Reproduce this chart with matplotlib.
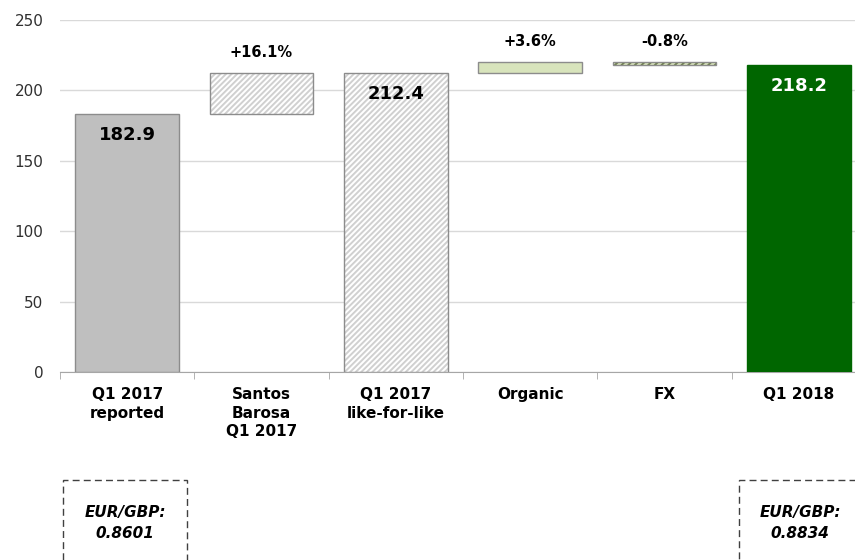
import matplotlib.pyplot as plt
from matplotlib.patches import Rectangle

plt.rcParams['font.family'] = ['DejaVu Sans']
plt.rcParams['hatch.linewidth'] = 1.4

# --- data ---
categories = ['Q1 2017\nreported', 'Santos\nBarosa\nQ1 2017', 'Q1 2017\nlike-for-like',
              'Organic', 'FX', 'Q1 2018']
steps = [182.9, 29.5, 212.4, 7.6, -1.8, 218.2]
kinds = ['total', 'delta', 'total', 'delta', 'delta', 'total']
value_labels = ['182.9', '', '212.4', '', '', '218.2']
pct_labels = ['', '+16.1%', '', '+3.6%', '-0.8%', '']
fx_boxes = [('EUR/GBP:\n0.8601', 0), ('EUR/GBP:\n0.8834', 5)]

# --- styles ---
GRID = '#D9D9D9'
EDGE = '#8C8C8C'
TEXT = '#000000'
styles = [
    dict(face='#BFBFBF', hatch=None, hcol=None),
    dict(face='white', hatch='/' * 6, hcol='#D0D0D0'),
    dict(face='white', hatch='/' * 6, hcol='#D0D0D0'),
    dict(face='#D8E4BC', hatch=None, hcol=None),
    dict(face='#D8E4BC', hatch='/' * 5, hcol='#6F7F4F'),
    dict(face='#006600', hatch=None, hcol=None),
]

fig = plt.figure(figsize=(8.55, 5.6), dpi=100)
ax = fig.add_axes([60 / 855, 1 - 372 / 560, 806 / 855, 352 / 560])

x = list(range(len(categories)))
bottoms, heights = [], []
running = 0.0
for s, k in zip(steps, kinds):
    if k == 'total':
        bottoms.append(0.0)
        heights.append(s)
        running = s
    else:
        lo = min(running, running + s)
        bottoms.append(lo)
        heights.append(abs(s))
        running += s

width = 0.77
for i in x:
    st = styles[i]
    if st['hatch']:
        ax.bar(i, heights[i], bottom=bottoms[i], width=width, color=st['face'],
               hatch=st['hatch'], edgecolor=st['hcol'], linewidth=0, zorder=3)
        ax.bar(i, heights[i], bottom=bottoms[i], width=width, fill=False,
               edgecolor=EDGE, linewidth=1, zorder=4)
    else:
        ax.bar(i, heights[i], bottom=bottoms[i], width=width, color=st['face'],
               edgecolor=EDGE if i != 5 else '#006600', linewidth=1, zorder=3)

# value labels inside the total bars, % labels above the steps
for i in x:
    top = bottoms[i] + heights[i]
    if value_labels[i]:
        ax.annotate(value_labels[i], (i, top), xytext=(0, -15),
                    textcoords='offset points', ha='center', va='center',
                    fontsize=13, fontweight='bold',
                    color='white' if i == 5 else TEXT, zorder=5)
    if pct_labels[i]:
        ax.annotate(pct_labels[i], (i, top), xytext=(0, 15),
                    textcoords='offset points', ha='center', va='center',
                    fontsize=10.5, fontweight='bold', color=TEXT, zorder=5)

ax.set_xlim(-0.5, len(categories) - 0.5)
ax.set_ylim(0, 250)
ax.set_yticks([0, 50, 100, 150, 200, 250])
ax.yaxis.grid(True, color=GRID, linewidth=1, zorder=0)
ax.set_axisbelow(True)
for sp in ['top', 'right', 'left']:
    ax.spines[sp].set_visible(False)
ax.spines['bottom'].set_color('#A6A6A6')
ax.tick_params(axis='y', length=0, pad=12, labelsize=11, labelcolor='#303030')

ax.set_xticks(x)
ax.set_xticklabels(categories, fontsize=11, fontweight='bold', linespacing=1.3)
ax.tick_params(axis='x', which='major', length=0, pad=11)
ax.set_xticks([i - 0.5 for i in range(len(categories) + 1)], minor=True)
ax.tick_params(axis='x', which='minor', length=5, color='#A6A6A6')

# dashed FX boxes below the chart
for txt, i in fx_boxes:
    left = 63 if i == 0 else 739
    right = 187 if i == 0 else 861
    rect = Rectangle((left / 855, -0.2), (right - left) / 855, (560 - 480) / 560 + 0.2,
                     transform=fig.transFigure, fill=False, edgecolor='#404040',
                     linewidth=1, linestyle=(0, (5, 3)), clip_on=False)
    fig.add_artist(rect)
    fig.text((left + right) / 2 / 855, 1 - 523 / 560, txt, ha='center', va='center',
             fontsize=11, fontweight='bold', style='italic', linespacing=1.45)

fig.savefig('out.png', dpi=100)
